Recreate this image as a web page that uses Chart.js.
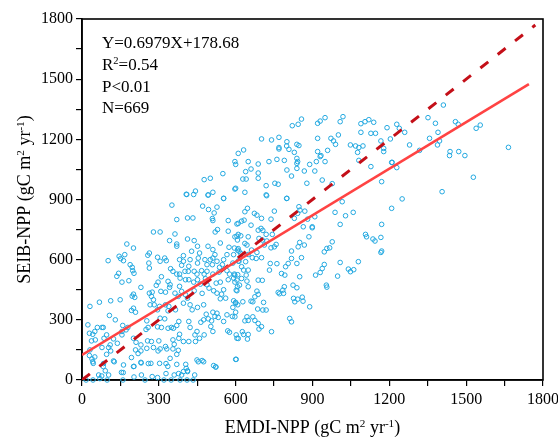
<!DOCTYPE html>
<html>
<head>
<meta charset="utf-8">
<script src="https://cdn.jsdelivr.net/npm/chart.js"></script>
<style>
    body { margin: 0; background: #fff; }
    #wrap { width: 558px; height: 438px; }
</style>
</head>
<body>
<div id="wrap"><canvas id="nppChart" width="558" height="438"></canvas></div>
<script>
    // site values: [EMDI-NPP, SEIB-NPP]
    const sitePoints = [
        [409,925],[436,925],[492,922],[553,905],[351,872],[471,867],[494,850],[527,862],[516,833],[509,805],[511,795],[370,800],[412,808],[433,808],[571,795],[605,778],[279,738],[305,738],[363,728],[529,750],[520,738],[571,742],[605,717],[412,703],[438,695],[342,695],[175,678],[201,658],[370,678],[370,667],[451,667],[492,667],[540,683],[574,662],[595,658],[610,655],[592,625],[566,625],[613,642],[263,633],[257,622],[396,620],[428,642],[459,633],[454,608],[511,650],[519,625],[511,608],[102,595],[145,617],[167,625],[151,605],[162,595],[295,612],[305,592],[323,608],[329,595],[381,600],[396,592],[389,572],[422,600],[417,567],[451,583],[480,600],[488,575],[501,600],[509,575],[527,592],[548,575],[553,600],[537,562],[589,583],[613,592],[188,575],[196,562],[198,545],[203,532],[261,583],[263,558],[346,555],[355,542],[370,528],[381,528],[402,542],[415,542],[438,542],[449,528],[467,545],[477,528],[488,542],[511,528],[535,538],[566,545],[576,528],[595,528],[608,525],[143,532],[136,517],[156,488],[183,495],[310,515],[297,488],[290,472],[336,492],[344,475],[342,462],[383,508],[381,467],[404,500],[417,500],[436,488],[451,500],[462,478],[482,505],[488,475],[524,483],[540,488],[571,500],[592,508],[597,488],[605,445],[230,462],[201,428],[196,418],[206,412],[263,433],[274,438],[271,417],[279,400],[308,442],[326,438],[363,433],[376,417],[389,442],[404,425],[412,408],[438,445],[469,432],[496,458],[514,445],[527,433],[545,428],[553,450],[540,405],[561,408],[592,395],[600,383],[589,362],[608,375],[149,400],[112,395],[68,388],[31,367],[201,358],[193,347],[209,338],[266,375],[282,375],[303,367],[295,350],[326,375],[339,367],[336,345],[365,350],[396,383],[422,375],[430,350],[451,362],[475,375],[485,328],[511,338],[527,333],[566,325],[587,317],[600,338],[107,322],[130,300],[159,272],[172,250],[179,262],[253,295],[258,262],[250,252],[305,308],[323,305],[295,265],[310,262],[336,258],[349,262],[357,258],[370,272],[378,292],[417,292],[422,262],[449,242],[464,288],[475,300],[493,305],[506,295],[503,267],[519,317],[532,312],[553,292],[569,245],[602,225],[605,208],[576,238],[23,275],[29,233],[42,228],[50,242],[60,262],[78,262],[83,262],[96,225],[52,200],[37,195],[86,208],[123,205],[138,183],[110,175],[104,162],[112,145],[78,162],[31,150],[29,122],[39,105],[50,115],[44,83],[96,128],[123,95],[156,242],[156,225],[201,208],[211,188],[209,150],[230,175],[230,145],[219,132],[253,158],[279,162],[297,145],[305,155],[256,195],[271,192],[300,195],[355,200],[360,178],[355,155],[378,208],[381,228],[396,192],[417,192],[441,225],[443,192],[459,208],[477,225],[511,242],[376,148],[370,128],[326,167],[331,155],[344,108],[303,83],[269,83],[230,88],[193,112],[162,75],[201,67],[83,67],[65,25],[104,25],[154,38],[232,25],[274,17],[295,12],[360,25],[389,25],[396,42],[407,58],[412,42],[449,100],[469,97],[514,72],[522,65],[602,103],
        [16,0],[43,0],[98,0],[160,0],[246,0],[320,0],[348,0],[383,0],[410,0],[434,0],[42,91],[84,82],[126,91],[203,68],[231,85],[259,82],[328,82],[335,68],[370,78],[405,78],[454,91],[475,91],[523,65],[161,37],[203,15],[328,32],[377,32],[412,46],[440,25],[77,20],[91,46],[70,7],
        [721,919],[799,905],[646,856],[636,839],[673,831],[683,822],[701,806],[751,842],[829,806],[847,864],[851,847],[870,842],[842,831],[988,836],[1016,889],[1029,819],[1059,836],[1209,856],[623,792],[610,781],[633,797],[660,772],[738,802],[1008,776],[1170,776],[864,764],[899,764],[899,759],[688,747],[699,756],[706,746],[610,726],[597,714],[620,719],[649,714],[607,698],[691,706],[719,726],[743,726],[881,802],[909,814],[886,714],[636,681],[644,673],[704,698],[722,693],[758,676],[751,664],[712,673],[738,659],[850,686],[868,673],[844,664],[977,689],[956,656],[946,639],[967,659],[1107,726],[1111,714],[1136,703],[1144,693],[1167,711],[1170,643],[1167,636],[607,648],[620,631],[662,648],[649,626],[683,636],[665,610],[618,610],[610,593],[639,590],[680,606],[701,610],[818,643],[857,610],[818,606],[805,581],[839,581],[735,581],[761,580],[732,548],[795,565],[779,531],[792,523],[623,565],[631,548],[649,548],[641,523],[597,523],[605,498],[623,506],[644,493],[607,465],[602,448],[615,473],[649,465],[688,498],[704,497],[850,515],[912,523],[930,536],[938,556],[946,576],[1008,586],[998,518],[1079,590],[1040,553],[1048,540],[1061,550],[954,473],[956,463],[790,465],[784,448],[787,432],[766,437],[771,430],[824,473],[839,460],[683,443],[688,427],[675,415],[660,393],[667,390],[709,387],[628,390],[600,387],[826,407],[831,390],[842,403],[860,413],[863,393],[889,365],[706,349],[719,349],[686,354],[597,315],[644,315],[649,297],[636,295],[667,315],[675,297],[688,282],[701,266],[691,254],[740,241],[811,307],[818,290],[626,241],[631,227],[649,227],[646,204],[610,207],[600,103],
        [857,1301],[844,1275],[821,1268],[920,1280],[930,1291],[949,1308],[1019,1313],[1008,1288],[1089,1278],[1105,1288],[1120,1298],[1139,1285],[1191,1258],[1089,1235],[1128,1230],[1146,1230],[701,1202],[740,1197],[769,1210],[800,1188],[799,1167],[769,1159],[769,1152],[808,1150],[839,1175],[847,1169],[829,1135],[920,1205],[972,1205],[982,1192],[990,1175],[1001,1222],[1048,1172],[1068,1167],[1097,1167],[1081,1159],[1076,1135],[1167,1192],[1178,1155],[1178,1139],[1204,1202],[610,1130],[631,1147],[597,1089],[649,1089],[688,1077],[730,1089],[761,1100],[790,1095],[839,1105],[839,1080],[842,1089],[930,1114],[949,1089],[920,1139],[959,1145],[889,1075],[915,1089],[933,1119],[868,1042],[909,1042],[800,1047],[839,1055],[660,1052],[639,1039],[688,1032],[688,1006],[628,1002],[641,1002],[818,1017],[766,976],[753,981],[719,969],[719,923],[800,906],[878,981],[938,997],[977,979],[1081,1095],[1128,1064],[1170,989],[1209,1085],[597,952],[636,936],
        [600,1075],[550,1029],[477,999],[501,1006],[600,956],[407,926],[443,942],[493,923],[511,936],[553,906],
        [1229,1275],[1239,1255],[1260,1235],[1411,1371],[1351,1308],[1380,1280],[1390,1235],[1357,1205],[1396,1192],[1388,1172],[1279,1172],[1318,1145],[1458,1288],[1469,1275],[1539,1255],[1555,1271],[1437,1139],[1435,1119],[1471,1139],[1495,1119],[1665,1160],[1211,1085],[1229,1059],[1528,1011],[1406,939],[1250,903]
    ];

    // fitted line and 1:1 line end points as drawn
    const fitLineX = [0, 1745];
    const fitLineY = [125, 1475];
    const oneToOneX = [0, 1770];
    const oneToOneY = [0, 1770];

    const axisMin = 0;
    const axisMax = 1800;
    const labelStep = 300;
    const minorStep = 150;

    const statLines = [
        [{ t: 'Y=0.6979X+178.68' }],
        [{ t: 'R' }, { t: '2', sup: true }, { t: '=0.54' }],
        [{ t: 'P<0.01' }],
        [{ t: 'N=669' }]
    ];
    const xTitle = [{ t: 'EMDI-NPP (gC m' }, { t: '2', sup: true }, { t: ' yr' }, { t: '-1', sup: true }, { t: ')' }];
    const yTitle = [{ t: 'SEIB-NPP (gC m' }, { t: '2', sup: true }, { t: ' yr' }, { t: '-1', sup: true }, { t: ')' }];

    const serif = '"Liberation Serif", "Times New Roman", serif';

    function partsWidth(ctx, parts, size) {
        let w = 0;
        parts.forEach(p => {
            ctx.font = (p.sup ? size * 0.62 : size) + 'px ' + serif;
            w += ctx.measureText(p.t).width;
        });
        return w;
    }

    function drawParts(ctx, parts, x, y, size) {
        let cx = x;
        parts.forEach(p => {
            const s = p.sup ? size * 0.62 : size;
            ctx.font = s + 'px ' + serif;
            ctx.fillText(p.t, cx, p.sup ? y - size * 0.36 : y);
            cx += ctx.measureText(p.t).width;
        });
    }

    const framePlugin = {
        id: 'frame',
        beforeDatasetsDraw(chart) {
            const a = chart.chartArea;
            const ctx = chart.ctx;
            ctx.save();
            ctx.strokeStyle = '#000';
            ctx.lineWidth = 1.6;
            ctx.strokeRect(a.left, a.top, a.right - a.left, a.bottom - a.top);
            ctx.restore();
        },
        afterDraw(chart) {
            const a = chart.chartArea;
            const ctx = chart.ctx;
            ctx.save();
            ctx.fillStyle = '#000';
            ctx.textBaseline = 'alphabetic';
            ctx.textAlign = 'left';

            const baselines = [48, 70, 92, 113];
            statLines.forEach((line, i) => drawParts(ctx, line, 102, baselines[i], 17));

            const tSize = 18;
            const xw = partsWidth(ctx, xTitle, tSize);
            drawParts(ctx, xTitle, (a.left + a.right) / 2 - xw / 2, 433, tSize);

            const yw = partsWidth(ctx, yTitle, tSize);
            ctx.translate(30, (a.top + a.bottom) / 2);
            ctx.rotate(-Math.PI / 2);
            drawParts(ctx, yTitle, -yw / 2, 0, tSize);
            ctx.restore();
        }
    };

    document.addEventListener('DOMContentLoaded', function () {
        const ctx = document.getElementById('nppChart').getContext('2d');

        const axisCommon = {
            type: 'linear',
            min: axisMin,
            max: axisMax,
            ticks: {
                stepSize: minorStep,
                autoSkip: false,
                maxRotation: 0,
                color: '#000',
                font: { family: serif, size: 16 },
                callback: v => (v % labelStep === 0 ? v : '')
            },
            grid: {
                drawOnChartArea: false,
                drawTicks: true,
                tickLength: 6,
                color: '#000',
                lineWidth: 1.2
            },
            border: { color: '#000', width: 1.6 }
        };

        new Chart(ctx, {
            type: 'scatter',
            data: {
                datasets: [
                    {
                        type: 'line',
                        label: 'fit',
                        data: fitLineX.map((x, i) => ({ x: x, y: fitLineY[i] })),
                        borderColor: '#ff4343',
                        borderWidth: 2.6,
                        pointRadius: 0,
                        fill: false
                    },
                    {
                        type: 'line',
                        label: '1:1',
                        data: oneToOneX.map((x, i) => ({ x: x, y: oneToOneY[i] })),
                        borderColor: '#c40f18',
                        borderWidth: 3,
                        borderDash: [10, 12],
                        pointRadius: 0,
                        fill: false
                    },
                    {
                        label: 'sites',
                        data: sitePoints.map(p => ({ x: p[0], y: p[1] })),
                        pointStyle: 'circle',
                        pointRadius: 2.3,
                        pointBorderWidth: 1,
                        borderColor: '#22a8e0',
                        backgroundColor: 'rgba(255,255,255,0)',
                        clip: false
                    }
                ]
            },
            options: {
                responsive: false,
                animation: false,
                layout: { padding: { top: 19, right: 15, left: 0, bottom: 0 } },
                plugins: {
                    legend: { display: false },
                    tooltip: { enabled: false }
                },
                scales: {
                    x: Object.assign({}, axisCommon, {
                        position: 'bottom',
                        afterFit: s => { s.height = 58; s.paddingLeft = 0; s.paddingRight = 0; },
                        ticks: Object.assign({}, axisCommon.ticks, { padding: 4 })
                    }),
                    y: Object.assign({}, axisCommon, {
                        position: 'left',
                        afterFit: s => { s.width = 82; s.paddingTop = 0; s.paddingBottom = 0; },
                        ticks: Object.assign({}, axisCommon.ticks, { padding: 3 })
                    })
                }
            },
            plugins: [framePlugin]
        });
    });
</script>
</body>
</html>
